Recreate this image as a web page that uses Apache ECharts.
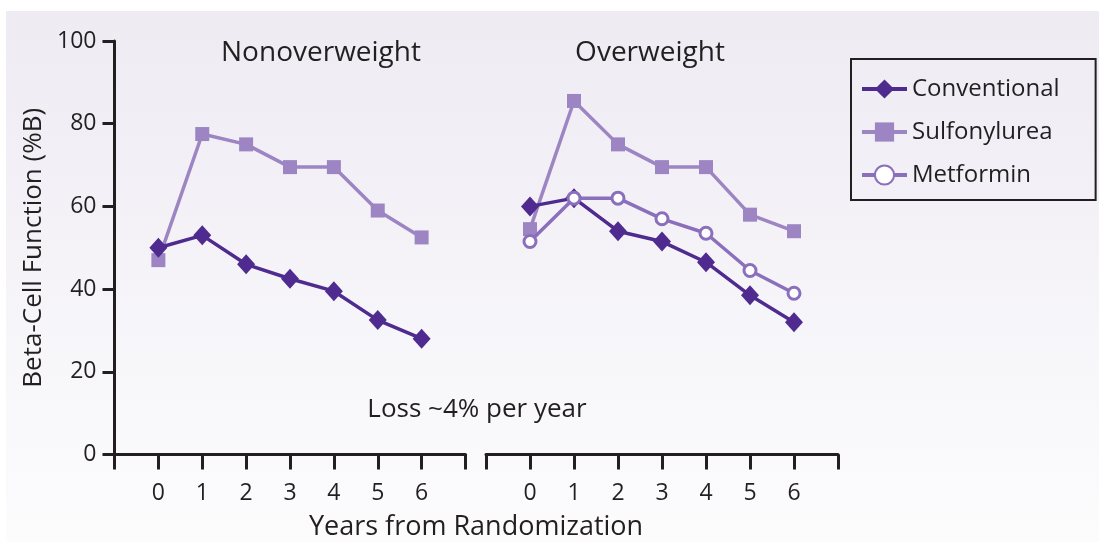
<!DOCTYPE html>
<html>
<head>
<meta charset="utf-8">
<script src="https://cdn.jsdelivr.net/npm/echarts@6/dist/echarts.min.js"></script>
<style>
html,body{margin:0;padding:0;background:#ffffff;}
#chart{width:1099px;height:542px;}
</style>
</head>
<body>
<div id="chart"></div>
<script>
// ---- data ----
const years = [0, 1, 2, 3, 4, 5, 6];
const xTickLabels = ['0', '1', '2', '3', '4', '5', '6'];
const yTicks = [0, 20, 40, 60, 80, 100];
const panelTitles = ['Nonoverweight', 'Overweight'];
const seriesNames = ['Conventional', 'Sulfonylurea', 'Metformin'];
const nonConventional = [50, 53, 46, 42.5, 39.5, 32.5, 28];
const nonSulfonylurea = [47, 77.5, 75, 69.5, 69.5, 59, 52.5];
const ovConventional = [60, 62, 54, 51.5, 46.5, 38.5, 32];
const ovSulfonylurea = [54.5, 85.5, 75, 69.5, 69.5, 58, 54];
const ovMetformin = [51.5, 62, 62, 57, 53.5, 44.5, 39];
const annotation = 'Loss ~4% per year';
const xTitle = 'Years from Randomization';
const yTitle = 'Beta-Cell Function (%B)';

const FONT = '"Open Sans", "Noto Sans", sans-serif';
const INK = '#231f20';
const C_CONV = '#4f2b90';
const C_SULF = '#9c85c2';
const C_MET = '#8a6fbc';

const pairs = vals => years.map((y, i) => [y, vals[i]]);

function xAxisCfg(gridIndex) {
  return {
    type: 'value', gridIndex, min: -1, max: 7, interval: 1,
    axisLine: { show: true, onZero: false, lineStyle: { color: INK, width: 3 } },
    axisTick: { show: true, length: 15, lineStyle: { color: INK, width: 3 } },
    axisLabel: {
      show: true, margin: 27, color: INK, fontFamily: FONT, fontSize: 23,
      formatter: v => (years.indexOf(v) >= 0 ? xTickLabels[years.indexOf(v)] : '')
    },
    splitLine: { show: false }
  };
}
function yAxisCfg(gridIndex, visible) {
  return {
    type: 'value', gridIndex, min: 0, max: 100, interval: 20, show: visible,
    name: visible ? yTitle : '',
    nameLocation: 'middle', nameGap: 68, nameRotate: 90,
    nameTextStyle: { color: INK, fontFamily: FONT, fontSize: 26 },
    axisLine: { show: true, onZero: false, lineStyle: { color: INK, width: 3 } },
    axisTick: { show: true, length: 12, lineStyle: { color: INK, width: 3 } },
    axisLabel: { margin: 18, color: INK, fontFamily: FONT, fontSize: 23,
      formatter: v => (yTicks.indexOf(v) >= 0 ? String(v) : '') },
    splitLine: { show: false }
  };
}

function sulfSeries(x, data) {
  return { name: seriesNames[1], type: 'line', xAxisIndex: x, yAxisIndex: x, data: pairs(data),
    symbol: 'rect', symbolSize: 14, lineStyle: { color: C_SULF, width: 3.5 },
    itemStyle: { color: C_SULF }, z: 2, animation: false };
}
function convSeries(x, data) {
  return { name: seriesNames[0], type: 'line', xAxisIndex: x, yAxisIndex: x, data: pairs(data),
    symbol: 'diamond', symbolSize: [18, 20], lineStyle: { color: C_CONV, width: 3.5 },
    itemStyle: { color: C_CONV }, z: 3, animation: false };
}
function metSeries(x, data) {
  return { name: seriesNames[2], type: 'line', xAxisIndex: x, yAxisIndex: x, data: pairs(data),
    symbol: 'circle', symbolSize: 12, lineStyle: { color: C_MET, width: 3.5 },
    itemStyle: { color: '#ffffff', borderColor: C_MET, borderWidth: 3 }, z: 4, animation: false };
}

const chart = echarts.init(document.getElementById('chart'), null, { renderer: 'canvas' });
chart.setOption({
  backgroundColor: '#ffffff',
  animation: false,
  textStyle: { fontFamily: FONT },
  graphic: [
    { type: 'rect', z: -10, silent: true,
      shape: { x: 6, y: 11, width: 1093, height: 531 },
      style: { fill: new echarts.graphic.LinearGradient(0, 0, 0, 1, [
        { offset: 0, color: '#eeebf3' }, { offset: 1, color: '#fcfcfd' }]) } },
    { type: 'text', x: 321, y: 53, style: { text: panelTitles[0], fill: INK, font: '28px ' + FONT, align: 'center', verticalAlign: 'middle' } },
    { type: 'text', x: 650, y: 53, style: { text: panelTitles[1], fill: INK, font: '28px ' + FONT, align: 'center', verticalAlign: 'middle' } },
    { type: 'text', x: 477, y: 410, style: { text: annotation, fill: INK, font: '26px ' + FONT, align: 'center', verticalAlign: 'middle' } },
    { type: 'text', x: 476, y: 527, style: { text: xTitle, fill: INK, font: '27px ' + FONT, align: 'center', verticalAlign: 'middle' } }
  ],
  legend: {
    orient: 'vertical', left: 851, top: 59,
    data: seriesNames,
    padding: [15, 36, 10, 9],
    itemGap: 13, itemWidth: 45, itemHeight: 24,
    borderColor: INK, borderWidth: 2, backgroundColor: 'transparent',
    lineStyle: { width: 4 },
    textStyle: { color: INK, fontFamily: FONT, fontSize: 24, lineHeight: 30 }
  },
  grid: [
    { left: 114.5, top: 41, width: 351, height: 413.5, containLabel: false },
    { left: 486, top: 41, width: 352, height: 413.5, containLabel: false }
  ],
  xAxis: [xAxisCfg(0), xAxisCfg(1)],
  yAxis: [yAxisCfg(0, true), yAxisCfg(1, false)],
  series: [
    sulfSeries(0, nonSulfonylurea),
    convSeries(0, nonConventional),
    sulfSeries(1, ovSulfonylurea),
    convSeries(1, ovConventional),
    metSeries(1, ovMetformin)
  ]
});
</script>
</body>
</html>
